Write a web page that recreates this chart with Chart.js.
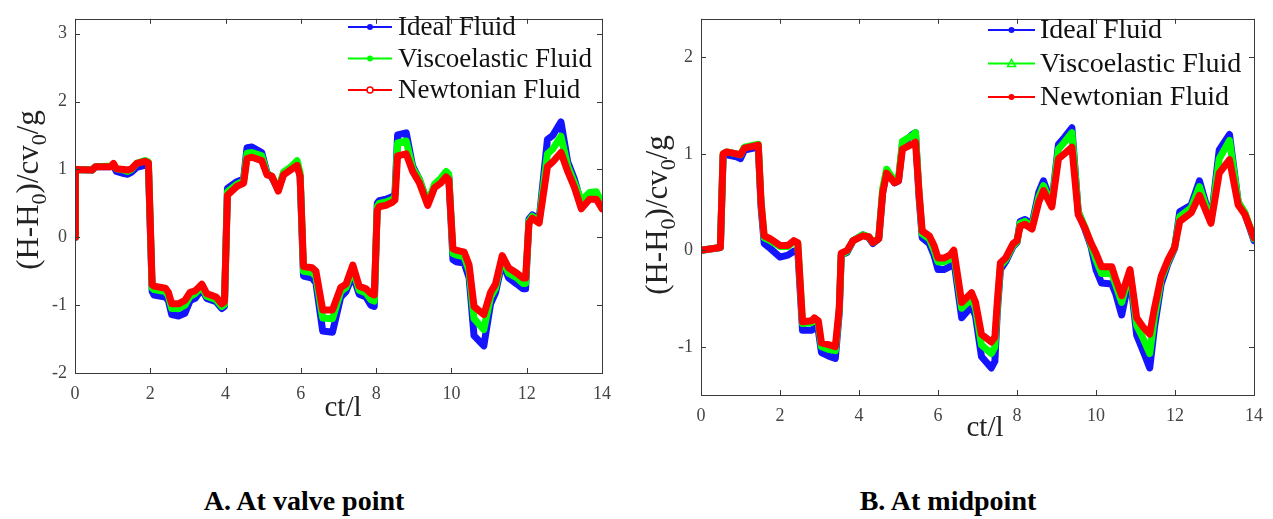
<!DOCTYPE html>
<html>
<head>
<meta charset="utf-8">
<script src="https://cdn.jsdelivr.net/npm/chart.js@4.4.0/dist/chart.umd.min.js"></script>
<style>
  body { margin: 0; background: #fff; width: 1273px; height: 519px; position: relative; overflow: hidden; }
  .box { position: absolute; top: 0; height: 445px; }
  #boxA { left: 0; width: 636px; }
  #boxB { left: 636px; width: 637px; }
  .cap { position: absolute; top: 485px; font: bold 28px "Liberation Serif", serif; color: #000;
         transform: translateX(-50%); white-space: nowrap; }
</style>
</head>
<body>
<div class="box" id="boxA"><canvas id="chartA"></canvas></div>
<div class="box" id="boxB"><canvas id="chartB"></canvas></div>
<div class="cap" style="left:304px">A. At valve point</div>
<div class="cap" style="left:948px">B. At midpoint</div>
<script>
// series names and the axis text
const seriesNames = ['Ideal Fluid', 'Viscoelastic Fluid', 'Newtonian Fluid'];
const xTitle = 'ct/l';
const yTitleParts = [['(H-H', false], ['0', true], [')/cv', false], ['0', true], ['/g', false]];
const xTicks = [0, 2, 4, 6, 8, 10, 12, 14];

// A. at valve point
const xsA = [0, 0.01, 0.45, 0.55, 0.95, 1.02, 1.1, 1.3, 1.4, 1.5, 1.64, 1.86, 1.95, 2.05, 2.1, 2.4, 2.48, 2.57, 2.75, 2.92,
  3.06, 3.19, 3.37, 3.5, 3.75, 3.9, 3.97, 4.05, 4.3, 4.48, 4.57, 4.7, 4.96, 5.1, 5.23, 5.4, 5.54, 5.72, 5.9, 5.98,
  6.07, 6.3, 6.4, 6.58, 6.84, 7.06, 7.2, 7.38, 7.55, 7.73, 7.86, 7.95, 8.03, 8.08, 8.26, 8.44, 8.5, 8.57, 8.8, 8.97,
  9.15, 9.37, 9.55, 9.72, 9.86, 9.93, 10.04, 10.12, 10.34, 10.47, 10.6, 10.86, 11.04, 11.17, 11.35, 11.52, 11.74, 11.9, 11.97, 12.06,
  12.15, 12.33, 12.55, 12.69, 12.91, 13.09, 13.27, 13.45, 13.67, 13.85, 14.0];
const newtA = [0, 1.0, 0.99, 1.04, 1.04, 1.09, 1.01, 1.0, 0.99, 1.01, 1.09, 1.12, 1.1, -0.7, -0.72, -0.75, -0.81, -0.98, -0.98, -0.93,
  -0.81, -0.79, -0.69, -0.83, -0.88, -0.98, -0.95, 0.62, 0.75, 0.8, 1.16, 1.18, 1.13, 0.92, 0.9, 0.68, 0.92, 0.99, 1.06, 0.9,
  -0.43, -0.45, -0.5, -1.07, -1.07, -0.74, -0.69, -0.41, -0.72, -0.76, -0.83, -0.85, 0.4, 0.45, 0.47, 0.52, 0.55, 1.2, 1.23, 0.97,
  0.8, 0.47, 0.73, 0.8, 0.89, 0.85, -0.17, -0.19, -0.22, -0.41, -1.02, -1.14, -0.81, -0.69, -0.27, -0.45, -0.53, -0.6, -0.6, 0.21,
  0.28, 0.21, 1.04, 1.11, 1.25, 0.97, 0.73, 0.42, 0.56, 0.56, 0.42];
const viscoA = [0, 1.0, 0.99, 1.04, 1.05, 1.08, 1.01, 0.99, 0.97, 1.0, 1.09, 1.13, 1.11, -0.75, -0.77, -0.8, -0.86, -1.05, -1.05, -1.0,
  -0.87, -0.83, -0.73, -0.87, -0.92, -1.02, -0.99, 0.67, 0.78, 0.83, 1.24, 1.25, 1.2, 0.94, 0.9, 0.7, 0.96, 1.03, 1.13, 0.95,
  -0.5, -0.52, -0.58, -1.19, -1.2, -0.8, -0.74, -0.47, -0.78, -0.82, -0.92, -0.94, 0.45, 0.5, 0.52, 0.56, 0.6, 1.39, 1.42, 1.02,
  0.85, 0.5, 0.78, 0.87, 0.97, 0.93, -0.24, -0.26, -0.29, -0.5, -1.2, -1.36, -0.88, -0.75, -0.31, -0.53, -0.6, -0.68, -0.68, 0.24,
  0.31, 0.24, 1.23, 1.3, 1.49, 1.05, 0.8, 0.54, 0.66, 0.67, 0.5];
const idealA = [0, 1.0, 0.99, 1.04, 1.04, 1.06, 0.97, 0.94, 0.93, 0.96, 1.03, 1.06, 1.05, -0.8, -0.85, -0.88, -0.93, -1.14, -1.16, -1.12,
  -0.93, -0.9, -0.76, -0.9, -0.95, -1.05, -1.02, 0.72, 0.82, 0.86, 1.32, 1.33, 1.25, 0.95, 0.88, 0.7, 0.94, 1.0, 1.08, 0.9,
  -0.57, -0.6, -0.67, -1.38, -1.4, -0.88, -0.8, -0.55, -0.84, -0.88, -1.0, -1.02, 0.5, 0.54, 0.56, 0.6, 0.64, 1.51, 1.54, 1.05,
  0.85, 0.5, 0.75, 0.83, 0.93, 0.9, -0.33, -0.36, -0.38, -0.6, -1.45, -1.6, -0.98, -0.82, -0.36, -0.6, -0.69, -0.76, -0.76, 0.27,
  0.33, 0.26, 1.44, 1.5, 1.7, 1.11, 0.85, 0.5, 0.62, 0.62, 0.47];

// B. at midpoint
const xsB = [0, 0.49, 0.56, 0.65, 0.9, 1.0, 1.1, 1.45, 1.52, 1.6, 1.75, 2.0, 2.2, 2.35, 2.45, 2.57, 2.8, 2.87, 2.97, 3.05,
  3.25, 3.4, 3.5, 3.55, 3.7, 3.85, 4.1, 4.25, 4.35, 4.5, 4.6, 4.7, 4.9, 5.0, 5.1, 5.35, 5.43, 5.52, 5.6, 5.78,
  5.9, 6.0, 6.15, 6.3, 6.4, 6.6, 6.85, 6.95, 7.1, 7.35, 7.44, 7.5, 7.58, 7.71, 7.9, 8.0, 8.08, 8.2, 8.38, 8.55,
  8.67, 8.88, 9.05, 9.2, 9.39, 9.55, 9.72, 9.88, 10.0, 10.14, 10.4, 10.5, 10.65, 10.86, 11.03, 11.2, 11.36, 11.48, 11.65, 11.82,
  11.99, 12.12, 12.41, 12.62, 12.91, 13.12, 13.38, 13.6, 13.77, 14.0];
const newtB = [0, 0.03, 1.0, 1.02, 1.0, 0.99, 1.06, 1.09, 0.5, 0.15, 0.12, 0.05, 0.05, 0.1, 0.08, -0.74, -0.73, -0.7, -0.73, -0.96,
  -0.98, -1.0, -0.6, -0.03, 0.0, 0.1, 0.15, 0.14, 0.08, 0.12, 0.6, 0.8, 0.7, 0.72, 1.05, 1.1, 1.12, 0.6, 0.2, 0.15,
  0.05, -0.08, -0.08, -0.05, 0.0, -0.54, -0.44, -0.54, -0.87, -0.95, -0.9, -0.54, -0.13, -0.08, 0.07, 0.1, 0.25, 0.27, 0.22, 0.5,
  0.62, 0.45, 0.95, 1.0, 1.07, 0.37, 0.23, 0.07, -0.03, -0.17, -0.17, -0.3, -0.47, -0.2, -0.7, -0.8, -0.87, -0.6, -0.27, -0.1,
  0.03, 0.3, 0.39, 0.57, 0.28, 0.8, 0.94, 0.47, 0.37, 0.13];
const viscoB = [0, 0.03, 1.0, 1.02, 1.0, 0.99, 1.07, 1.1, 0.5, 0.13, 0.1, 0.04, 0.04, 0.09, 0.07, -0.76, -0.75, -0.72, -0.76, -1.0,
  -1.03, -1.04, -0.62, -0.05, -0.01, 0.1, 0.16, 0.14, 0.08, 0.12, 0.64, 0.84, 0.72, 0.74, 1.13, 1.19, 1.22, 0.6, 0.17, 0.12,
  0.0, -0.12, -0.12, -0.09, -0.04, -0.6, -0.5, -0.6, -0.98, -1.07, -1.0, -0.6, -0.16, -0.1, 0.05, 0.09, 0.28, 0.3, 0.25, 0.55,
  0.67, 0.47, 1.05, 1.12, 1.22, 0.4, 0.24, 0.05, -0.1, -0.24, -0.24, -0.36, -0.54, -0.22, -0.78, -0.92, -1.07, -0.7, -0.3, -0.12,
  0.03, 0.35, 0.44, 0.66, 0.3, 0.95, 1.14, 0.5, 0.39, 0.12];
const idealB = [0, 0.03, 0.98, 0.99, 0.97, 0.95, 1.04, 1.07, 0.45, 0.07, 0.02, -0.07, -0.05, -0.01, 0.0, -0.83, -0.83, -0.8, -0.83, -1.06,
  -1.1, -1.12, -0.65, -0.05, -0.02, 0.1, 0.16, 0.13, 0.07, 0.12, 0.6, 0.82, 0.7, 0.72, 1.1, 1.2, 1.22, 0.55, 0.13, 0.07,
  -0.05, -0.2, -0.2, -0.17, -0.1, -0.7, -0.58, -0.68, -1.1, -1.22, -1.15, -0.65, -0.2, -0.12, 0.04, 0.08, 0.3, 0.32, 0.27, 0.6,
  0.72, 0.48, 1.1, 1.17, 1.27, 0.4, 0.22, 0.03, -0.2, -0.34, -0.35, -0.45, -0.67, -0.25, -0.88, -1.05, -1.22, -0.8, -0.35, -0.14,
  0.02, 0.4, 0.47, 0.72, 0.3, 1.04, 1.2, 0.5, 0.38, 0.1];

const colors = ['rgb(20, 20, 255)', 'rgb(0, 255, 0)', 'rgb(255, 0, 0)'];
const tickFont = { family: '"Liberation Serif", serif', size: 18 };
const tickColor = '#454545';

function framePlugin(cfg) {
  return {
    id: 'frame' + cfg.name,
    afterDraw(chart) {
      const ctx = chart.ctx;
      const a = chart.chartArea;
      const sx = chart.scales.x;
      const sy = chart.scales.y;
      ctx.save();

      // box with inward ticks on every side
      ctx.strokeStyle = '#3a3a3a';
      ctx.lineWidth = 1;
      ctx.strokeRect(Math.round(a.left) + 0.5, Math.round(a.top) + 0.5,
        Math.round(a.right - a.left), Math.round(a.bottom - a.top));
      ctx.beginPath();
      sx.ticks.forEach(tk => {
        const p = Math.round(sx.getPixelForValue(tk.value)) + 0.5;
        ctx.moveTo(p, a.bottom); ctx.lineTo(p, a.bottom - 5);
        ctx.moveTo(p, a.top); ctx.lineTo(p, a.top + 5);
      });
      sy.ticks.forEach(tk => {
        const p = Math.round(sy.getPixelForValue(tk.value)) + 0.5;
        ctx.moveTo(a.left, p); ctx.lineTo(a.left + 5, p);
        ctx.moveTo(a.right, p); ctx.lineTo(a.right - 5, p);
      });
      ctx.stroke();

      // legend
      const lg = cfg.legend;
      seriesNames.forEach((name, i) => {
        const yy = lg.y0 + i * lg.dy;
        ctx.strokeStyle = colors[i];
        ctx.fillStyle = colors[i];
        ctx.lineWidth = 2;
        ctx.beginPath();
        ctx.moveTo(lg.x0, yy); ctx.lineTo(lg.x1, yy);
        ctx.stroke();
        const mx = (lg.x0 + lg.x1) / 2;
        const mk = lg.markers[i];
        ctx.beginPath();
        if (mk === 'tri') {
          ctx.moveTo(mx, yy - 4); ctx.lineTo(mx + 4, yy + 3); ctx.lineTo(mx - 4, yy + 3); ctx.closePath();
          ctx.lineWidth = 1.5; ctx.stroke();
        } else if (mk === 'open') {
          ctx.arc(mx, yy, 3, 0, Math.PI * 2);
          ctx.fillStyle = '#fff'; ctx.fill();
          ctx.lineWidth = 1.5; ctx.stroke();
        } else {
          ctx.arc(mx, yy, 3, 0, Math.PI * 2);
          ctx.fill();
        }
        ctx.fillStyle = '#111';
        ctx.font = lg.size + 'px "Liberation Serif", serif';
        ctx.textAlign = 'left';
        ctx.textBaseline = 'middle';
        ctx.fillText(name, lg.tx, yy + 1);
      });

      // x title
      ctx.fillStyle = '#222';
      ctx.font = '29px "Liberation Serif", serif';
      ctx.textAlign = 'center';
      ctx.textBaseline = 'middle';
      ctx.fillText(xTitle, cfg.xTitle.x, cfg.xTitle.y);

      // y title, rotated, with subscripts
      const size = 31;
      const subSize = 22;
      ctx.translate(cfg.yTitle.x, cfg.yTitle.y);
      ctx.rotate(-Math.PI / 2);
      ctx.textAlign = 'left';
      ctx.textBaseline = 'alphabetic';
      let total = 0;
      yTitleParts.forEach(([t, sub]) => {
        ctx.font = (sub ? subSize : size) + 'px "Liberation Serif", serif';
        total += ctx.measureText(t).width;
      });
      let px = -total / 2;
      yTitleParts.forEach(([t, sub]) => {
        ctx.font = (sub ? subSize : size) + 'px "Liberation Serif", serif';
        ctx.fillText(t, px, sub ? size * 0.33 + 8 : size * 0.33);
        px += ctx.measureText(t).width;
      });
      ctx.restore();
    }
  };
}

function makeChart(id, xs, ideal, visco, newt, cfg) {
  const pts = (ys) => xs.map((x, i) => ({ x: x, y: ys[i] }));
  const series = [ideal, visco, newt];
  const datasets = series.map((ys, i) => ({
    label: seriesNames[i],
    data: pts(ys),
    borderColor: colors[i],
    backgroundColor: colors[i],
    borderWidth: 7,
    pointRadius: 0,
    tension: 0,
    fill: false,
    order: 3 - i
  }));

  return new Chart(document.getElementById(id).getContext('2d'), {
    type: 'line',
    data: { datasets: datasets },
    plugins: [framePlugin(cfg)],
    options: {
      responsive: true,
      maintainAspectRatio: false,
      animation: false,
      layout: { padding: { left: 0, top: cfg.top, right: cfg.right, bottom: 0 } },
      elements: { line: { borderJoinStyle: 'round', borderCapStyle: 'round' } },
      plugins: {
        legend: { display: false },
        tooltip: { enabled: false }
      },
      scales: {
        x: {
          type: 'linear',
          min: 0,
          max: 14,
          afterFit: (s) => { s.height = cfg.xAxisH; },
          afterBuildTicks: (s) => { s.ticks = xTicks.map(v => ({ value: v })); },
          grid: { display: false, drawTicks: false },
          border: { display: false },
          ticks: { padding: 10, font: tickFont, color: tickColor, maxRotation: 0 }
        },
        y: {
          min: cfg.yMin,
          max: cfg.yMax,
          afterFit: (s) => { s.width = cfg.yAxisW; },
          grid: { display: false, drawTicks: false },
          border: { display: false },
          ticks: { stepSize: 1, includeBounds: false, padding: 8, font: tickFont, color: tickColor }
        }
      }
    }
  });
}

makeChart('chartA', xsA, idealA, viscoA, newtA, {
  name: 'A', top: 6, right: 34, xAxisH: 72, yAxisW: 75, yMin: -2, yMax: 3.22,
  legend: { x0: 348, x1: 392, tx: 398, y0: 27, dy: 31.5, size: 27, markers: ['dot', 'dot', 'open'] },
  xTitle: { x: 343, y: 408 },
  yTitle: { x: 28, y: 190 }
});

makeChart('chartB', xsB, idealB, viscoB, newtB, {
  name: 'B', top: 7, right: 17, xAxisH: 50, yAxisW: 65, yMin: -1.5, yMax: 2.4,
  legend: { x0: 352, x1: 399, tx: 404, y0: 30, dy: 33.5, size: 28, markers: ['dot', 'tri', 'dot'] },
  xTitle: { x: 349, y: 428 },
  yTitle: { x: 21, y: 215 }
});
</script>
</body>
</html>
